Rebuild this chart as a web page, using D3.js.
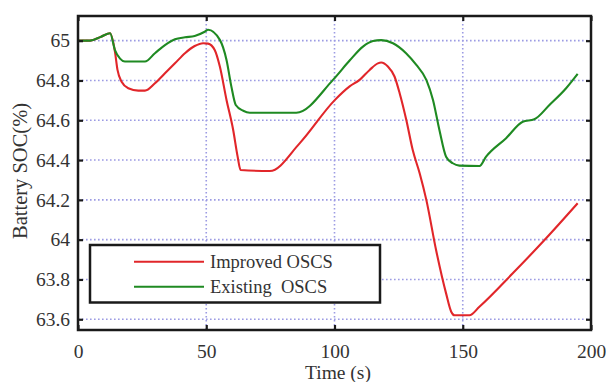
<!DOCTYPE html>
<html>
<head>
<meta charset="utf-8">
<script src="https://cdn.jsdelivr.net/npm/d3@7"></script>
<style>
  body { margin: 0; background: #fff; }
  svg { display: block; }
  svg text { font-family: "Liberation Serif", "Times New Roman", Times, "DejaVu Serif", serif; }
</style>
</head>
<body>
<div id="chart"></div>
<script>
// series values: time (s) and battery SOC (%)
const existingTime = [0, 4.7, 9, 12.5, 14.4, 16.4, 18.3, 26.1, 30, 33.9, 37.8, 41.7, 45.5, 49.4, 50.7,
  55.3, 57.9, 59.8, 61.5, 64.4, 67, 85.1, 99.4, 105.9, 111.1, 115, 118.2, 122.8, 127.9, 131.9,
  135.8, 138.4, 140.9, 143.5, 146.1, 148.7, 156.5, 159.1, 166.9, 173.4, 177.9, 183.8, 190.3, 194.8];
const existingSoc = [65.0, 65.0, 65.02, 65.037, 64.953, 64.91, 64.895, 64.895, 64.937, 64.978, 65.007, 65.017, 65.024, 65.045, 65.055,
  65.004, 64.903, 64.769, 64.677, 64.648, 64.638, 64.638, 64.803, 64.9, 64.97, 64.998, 65.003, 64.987, 64.937, 64.878,
  64.803, 64.702, 64.551, 64.417, 64.384, 64.372, 64.37, 64.417, 64.51, 64.593, 64.605, 64.677, 64.761, 64.833];

const improvedTime = [0, 4.7, 9, 12.5, 14.4, 15.4, 17, 19.6, 23.5, 26.1, 30, 33.9, 37.8, 41.7, 45.5, 48.8, 50.7,
  53.3, 55.3, 57.9, 60.5, 62.2, 63.4, 74.8, 86.4, 100, 105.9, 109.8, 113.7, 116.9, 118.2, 120.8,
  123.4, 125.4, 128, 130.5, 133.2, 135.8, 139.6, 143.5, 145.5, 146.8, 152.6, 156.5, 169.5, 182.5, 194.8];
const improvedSoc = [65.0, 65.0, 65.02, 65.037, 64.945, 64.853, 64.794, 64.761, 64.749, 64.749, 64.786, 64.836, 64.886, 64.937, 64.973, 64.987, 64.985,
  64.953, 64.87, 64.702, 64.551, 64.42, 64.35, 64.345, 64.484, 64.7, 64.77, 64.803, 64.853, 64.886, 64.89, 64.87,
  64.82, 64.736, 64.601, 64.45, 64.334, 64.2, 63.948, 63.73, 63.638, 63.62, 63.62, 63.663, 63.831, 64.007, 64.183];

const xTicks = [0, 50, 100, 150, 200];
const yTicks = [63.6, 63.8, 64, 64.2, 64.4, 64.6, 64.8, 65];
const seriesNames = ['Improved OSCS', 'Existing  OSCS'];
const seriesColors = ['#e1262a', '#1f8a22'];

const width = 606;
const height = 382;
const plot = { left: 78, top: 16, right: 591, bottom: 330 };
const serif = '"Liberation Serif", "Times New Roman", Times, "DejaVu Serif", serif';

const svg = d3.select('#chart').append('svg')
  .attr('width', width)
  .attr('height', height);

const x = d3.scaleLinear().domain([0, 200]).range([plot.left, plot.right]);
const y = d3.scaleLinear().domain([63.546, 65.124]).range([plot.bottom, plot.top]);

// dotted grid
const grid = svg.append('g')
  .attr('stroke', '#9c9be3')
  .attr('stroke-width', 1.6)
  .attr('stroke-dasharray', '1.6,2.4');
grid.selectAll('.gx').data(xTicks.slice(1, -1)).enter().append('line')
  .attr('x1', (d) => x(d)).attr('x2', (d) => x(d))
  .attr('y1', plot.top).attr('y2', plot.bottom);
grid.selectAll('.gy').data(yTicks).enter().append('line')
  .attr('x1', plot.left).attr('x2', plot.right)
  .attr('y1', (d) => y(d)).attr('y2', (d) => y(d));

// lines
const lineGen = d3.line().curve(d3.curveMonotoneX)
  .x((d) => x(d[0])).y((d) => y(d[1]));
const series = [
  d3.zip(improvedTime, improvedSoc),
  d3.zip(existingTime, existingSoc),
];
svg.selectAll('.series').data(series).enter().append('path')
  .attr('d', (d) => lineGen(d))
  .attr('fill', 'none')
  .attr('stroke', (d, i) => seriesColors[i])
  .attr('stroke-width', 2.1)
  .attr('stroke-linejoin', 'round');

// axes (ticks pointing inward, on all four sides)
const fontSize = 19.5;
const bottomAxis = d3.axisBottom(x).tickValues(xTicks).tickSize(-5).tickPadding(14);
const topAxis = d3.axisTop(x).tickValues(xTicks).tickSize(-5).tickFormat('');
const leftAxis = d3.axisLeft(y).tickValues(yTicks).tickSize(-5).tickPadding(8).tickFormat(d3.format('~g'));
const rightAxis = d3.axisRight(y).tickValues(yTicks).tickSize(-5).tickFormat('');

function styleAxis(g) {
  g.attr('font-family', serif).attr('font-size', fontSize);
  g.select('.domain').remove();
  g.selectAll('.tick line').attr('stroke', '#1a1a1a').attr('stroke-width', 2.2);
  g.selectAll('.tick text').attr('fill', '#333');
}

svg.append('g').attr('transform', `translate(0,${plot.bottom})`).call(bottomAxis).call(styleAxis);
svg.append('g').attr('transform', `translate(0,${plot.top})`).call(topAxis).call(styleAxis);
svg.append('g').attr('transform', `translate(${plot.left},0)`).call(leftAxis).call(styleAxis);
svg.append('g').attr('transform', `translate(${plot.right},0)`).call(rightAxis).call(styleAxis);

// frame
svg.append('rect')
  .attr('x', plot.left).attr('y', plot.top)
  .attr('width', plot.right - plot.left).attr('height', plot.bottom - plot.top)
  .attr('fill', 'none')
  .attr('stroke', '#1a1a1a')
  .attr('stroke-width', 2.5);

// axis labels
svg.append('text')
  .attr('x', 338)
  .attr('y', 379)
  .attr('text-anchor', 'middle')
  .attr('fill', '#333')
  .attr('font-family', serif)
  .attr('font-size', fontSize)
  .text('Time (s)');

svg.append('text')
  .attr('transform', 'translate(27,171) rotate(-90)')
  .attr('text-anchor', 'middle')
  .attr('fill', '#333')
  .attr('font-family', serif)
  .attr('font-size', 20.5)
  .text('Battery SOC(%)');

// legend
const legend = svg.append('g');
legend.append('rect')
  .attr('x', 90).attr('y', 245)
  .attr('width', 290).attr('height', 57.5)
  .attr('fill', '#fff')
  .attr('stroke', '#1a1a1a')
  .attr('stroke-width', 2.5);
const rows = legend.selectAll('.row').data(seriesNames).enter().append('g')
  .attr('transform', (d, i) => `translate(0,${261.7 + i * 25})`);
rows.append('line')
  .attr('x1', 134).attr('x2', 204)
  .attr('stroke', (d, i) => seriesColors[i])
  .attr('stroke-width', 2.1);
rows.append('text')
  .attr('x', 210).attr('y', 6)
  .attr('fill', '#333')
  .attr('font-family', serif)
  .attr('font-size', 18.5)
  .attr('xml:space', 'preserve')
  .style('white-space', 'pre')
  .text((d) => d);
</script>
</body>
</html>
